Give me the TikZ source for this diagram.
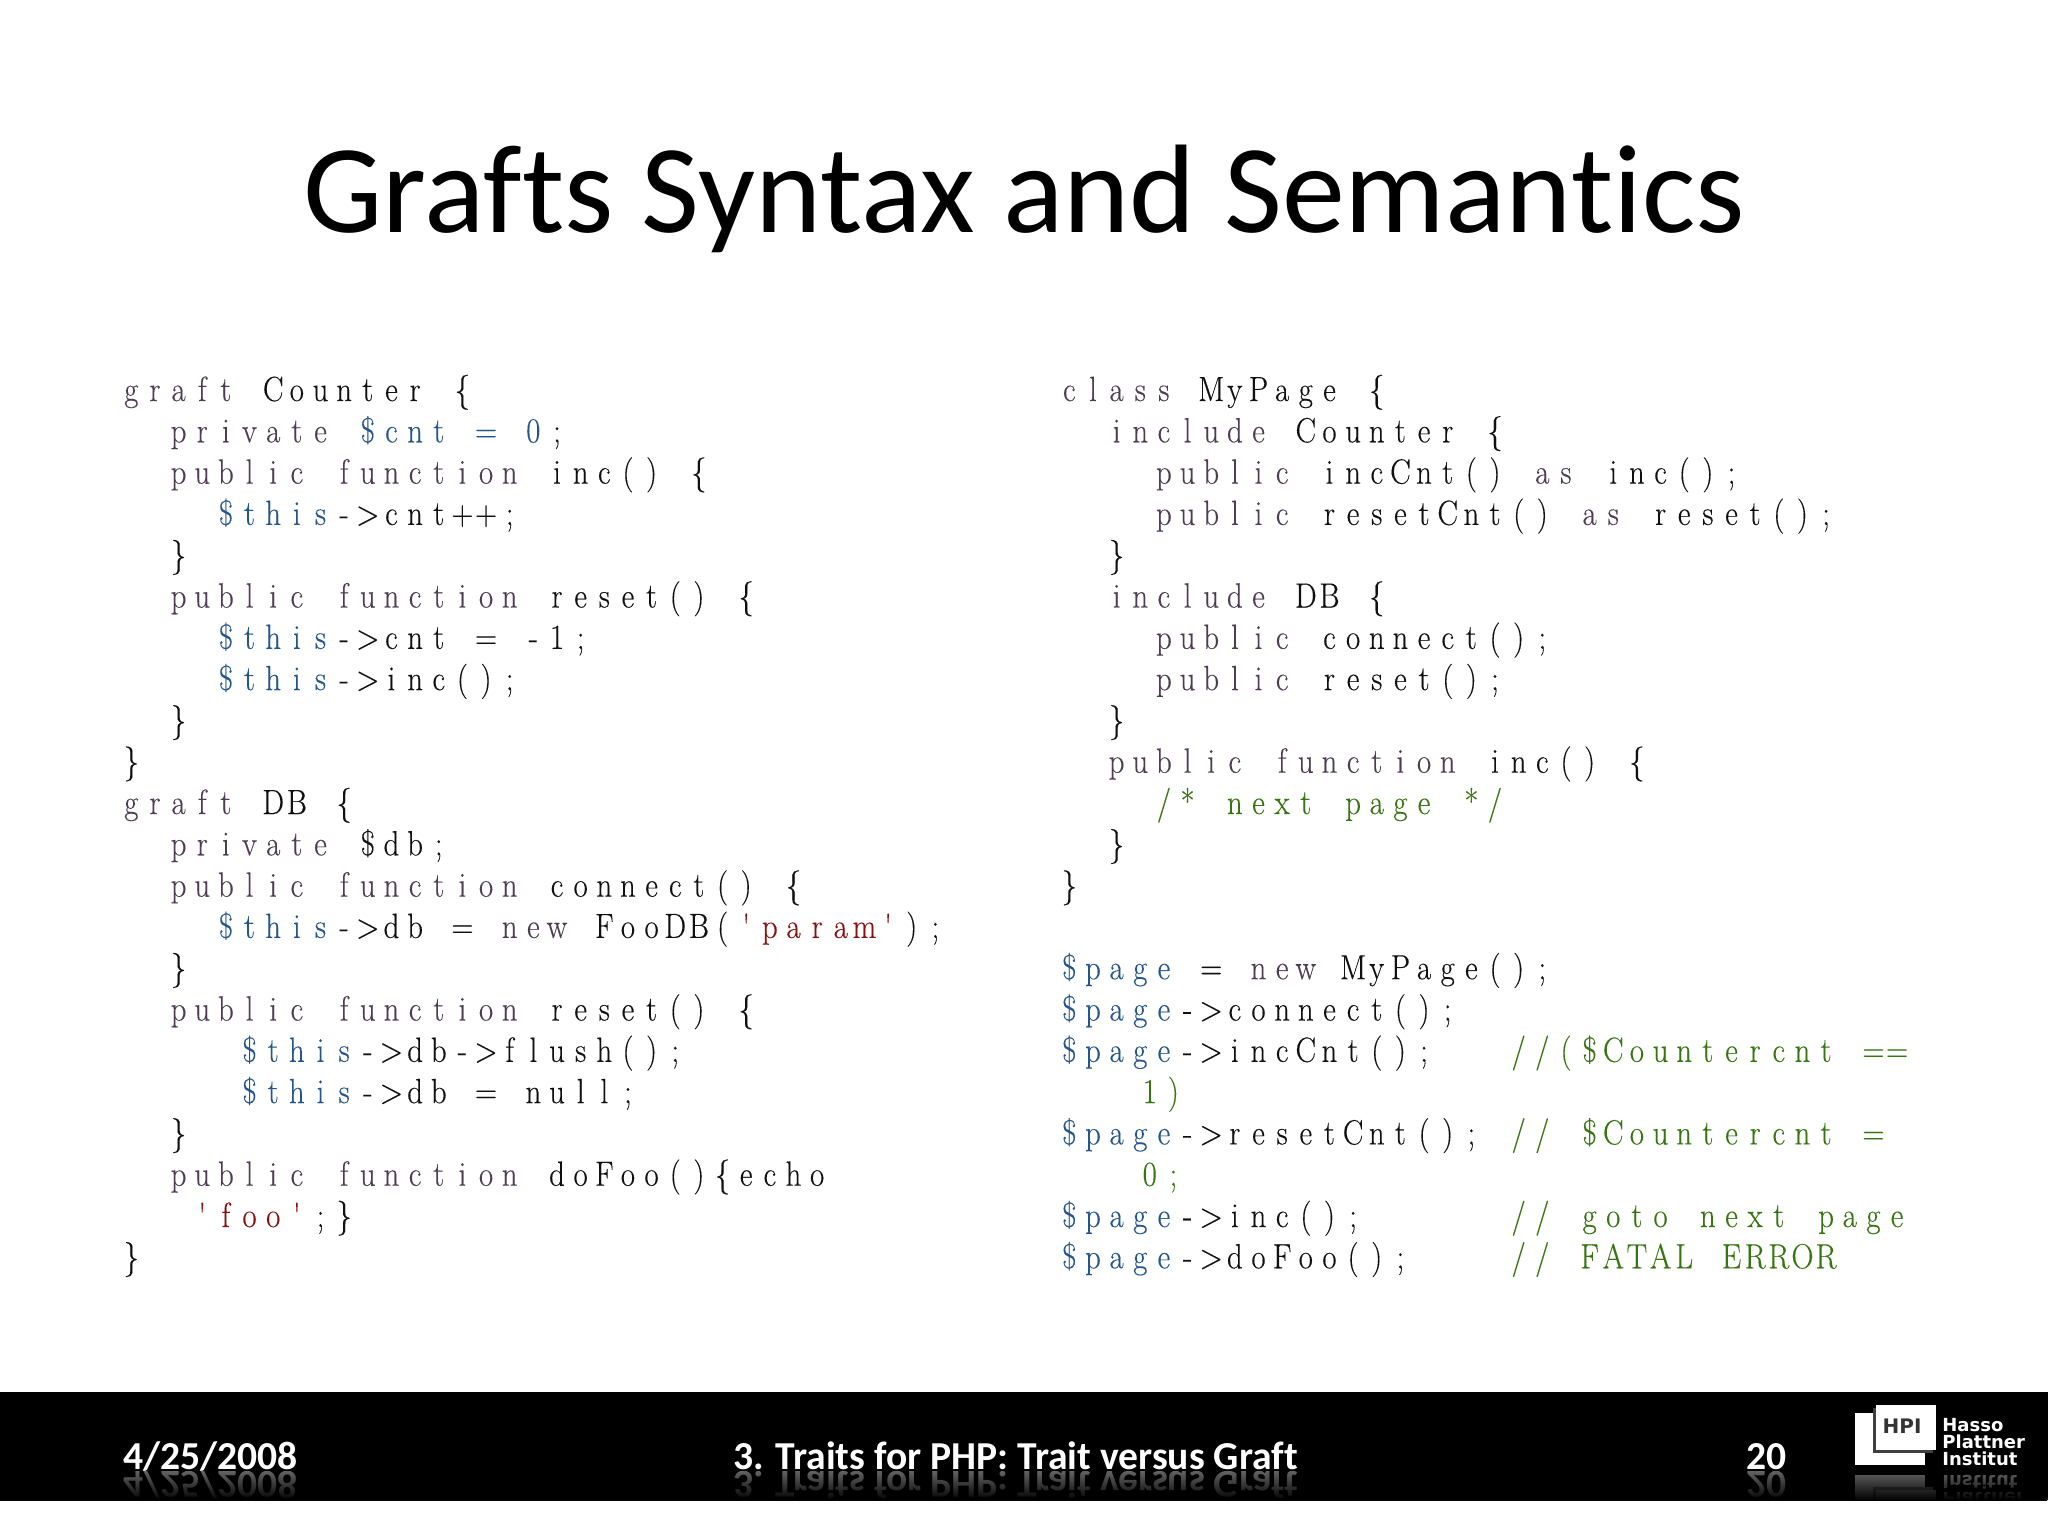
\documentclass[tikz,border=0pt]{standalone}
\usepackage{fontspec}
\usetikzlibrary{fadings}
\setmainfont{Carlito}[Ligatures=NoCommon]
\newfontfamily\codefont[FakeStretch=.88,FakeBold=.25]{Latin Modern Roman}
\newfontfamily\logofont{DejaVu Sans}
\definecolor{kw}{HTML}{4E3D52}
\definecolor{vr}{HTML}{24558C}
\definecolor{st}{HTML}{8A1010}
\definecolor{cm}{HTML}{367510}
\definecolor{pl}{HTML}{101010}
\newlength\cellw
\setlength\cellw{11.825pt}
\ExplSyntaxOn
\NewDocumentCommand\seg{mm}{
  \group_begin:
  \color{#1}
  \str_map_inline:nn {#2}{
    \str_case:nnF {##1}{
      {[}{\makebox[\cellw][c]{\{}}
      {]}{\makebox[\cellw][c]{\}}}
      {|}{\makebox[\cellw][c]{}}
    }{\makebox[\cellw][c]{##1}}
  }
  \group_end:
}
\ExplSyntaxOff
\newcommand\codeline[5]{\node[codetext] (#1) at ({#2+#3*23.65},{401+#4*41.3}) {#5};}
\newcommand\footerbits[1]{%
  \fill[fg] (1855,1413) rectangle (1925,1465);
  \fill[black!75] (1873,1408) rectangle (1933,1453);
  \fill[fg] (1876,1405) rectangle (1936,1450);
  \node[foot,anchor=base west] (#1date) at (123,1469) {4/25/2008};
  \node[foot,anchor=base] (#1talk) at (1015.5,1469) {3. Traits for PHP: Trait versus Graft};
  \node[foot,anchor=base] (#1num) at (1766.5,1469) {20};
  \node[hpi] (#1hpi) at (1902,1433) {HPI};
  \node[hpt] (#1a) at (1942,1431) {Hasso};
  \node[hpt] (#1b) at (1942,1448) {Plattner};
  \node[hpt] (#1c) at (1942,1465) {Institut};
}
\begin{document}
\begin{tikzpicture}[x=.5pt,y=-.5pt,
  codetext/.style={inner sep=0pt,outer sep=0pt,anchor=base west,text=pl,font=\codefont\fontsize{17.5}{17.5}\selectfont},
  foot/.style={inner sep=0pt,text=fg,transform shape,font=\bfseries\fontsize{19.8}{20}\selectfont},
  hpi/.style={inner sep=0pt,anchor=base,text=black!80,transform shape,font=\logofont\bfseries\fontsize{10}{10}\selectfont},
  hpt/.style={inner sep=0pt,anchor=base west,text=fg,transform shape,font=\logofont\bfseries\fontsize{9}{9}\selectfont}]
\colorlet{fg}{white}
\useasboundingbox (0,0) rectangle (2048,1536);
\fill[white] (0,0) rectangle (2048,1536);
\fill[black] (0,1392) rectangle (2048,1500);
\node[inner sep=0pt,anchor=base,font=\fontsize{63}{63}\selectfont] (title) at (1024,232) {Grafts Syntax and Semantics};
% left column
\codeline{a0}{119.5}{0}{0}{\seg{kw}{graft}\seg{pl}{ Counter [}}
\codeline{a1}{119.5}{2}{1}{\seg{kw}{private}\seg{vr}{ $cnt = 0}\seg{pl}{;}}
\codeline{a2}{119.5}{2}{2}{\seg{kw}{public function}\seg{pl}{ inc() [}}
\codeline{a3}{119.5}{4}{3}{\seg{vr}{$this}\seg{pl}{->cnt++;}}
\codeline{a4}{119.5}{2}{4}{\seg{pl}{]}}
\codeline{a5}{119.5}{2}{5}{\seg{kw}{public function}\seg{pl}{ reset() [}}
\codeline{a6}{119.5}{4}{6}{\seg{vr}{$this}\seg{pl}{->cnt = -1;}}
\codeline{a7}{119.5}{4}{7}{\seg{vr}{$this}\seg{pl}{->inc();}}
\codeline{a8}{119.5}{2}{8}{\seg{pl}{]}}
\codeline{a9}{119.5}{0}{9}{\seg{pl}{]}}
\codeline{a10}{119.5}{0}{10}{\seg{kw}{graft}\seg{pl}{ DB [}}
\codeline{a11}{119.5}{2}{11}{\seg{kw}{private}\seg{pl}{ $db;}}
\codeline{a12}{119.5}{2}{12}{\seg{kw}{public function}\seg{pl}{ connect() [}}
\codeline{a13}{119.5}{4}{13}{\seg{vr}{$this}\seg{pl}{->db = }\seg{kw}{new}\seg{pl}{ FooDB(}\seg{st}{'param'}\seg{pl}{);}}
\codeline{a14}{119.5}{2}{14}{\seg{pl}{]}}
\codeline{a15}{119.5}{2}{15}{\seg{kw}{public function}\seg{pl}{ reset() [}}
\codeline{a16}{119.5}{5}{16}{\seg{vr}{$this}\seg{pl}{->db->flush();}}
\codeline{a17}{119.5}{5}{17}{\seg{vr}{$this}\seg{pl}{->db = null;}}
\codeline{a18}{119.5}{2}{18}{\seg{pl}{]}}
\codeline{a19}{119.5}{2}{19}{\seg{kw}{public function}\seg{pl}{ doFoo()[echo}}
\codeline{a20}{119.5}{3}{20}{\seg{st}{'foo'}\seg{pl}{;]}}
\codeline{a21}{119.5}{0}{21}{\seg{pl}{]}}
% right column
\codeline{b0}{1057.5}{0}{0}{\seg{kw}{class}\seg{pl}{ MyPage [}}
\codeline{b1}{1057.5}{2}{1}{\seg{kw}{include}\seg{pl}{ Counter [}}
\codeline{b2}{1057.5}{4}{2}{\seg{kw}{public}\seg{pl}{ incCnt() }\seg{kw}{as}\seg{pl}{ inc();}}
\codeline{b3}{1057.5}{4}{3}{\seg{kw}{public}\seg{pl}{ resetCnt() }\seg{kw}{as}\seg{pl}{ reset();}}
\codeline{b4}{1057.5}{2}{4}{\seg{pl}{]}}
\codeline{b5}{1057.5}{2}{5}{\seg{kw}{include}\seg{pl}{ DB [}}
\codeline{b6}{1057.5}{4}{6}{\seg{kw}{public}\seg{pl}{ connect();}}
\codeline{b7}{1057.5}{4}{7}{\seg{kw}{public}\seg{pl}{ reset();}}
\codeline{b8}{1057.5}{2}{8}{\seg{pl}{]}}
\codeline{b9}{1057.5}{2}{9}{\seg{kw}{public function}\seg{pl}{ inc() [}}
\codeline{b10}{1057.5}{4}{10}{\seg{cm}{/* next page */}}
\codeline{b11}{1057.5}{2}{11}{\seg{pl}{]}}
\codeline{b12}{1057.5}{0}{12}{\seg{pl}{]}}
\codeline{b14}{1057.5}{0}{14}{\seg{vr}{$page}\seg{pl}{ = }\seg{kw}{new}\seg{pl}{ MyPage();}}
\codeline{b15}{1057.5}{0}{15}{\seg{vr}{$page}\seg{pl}{->connect();}}
\codeline{b16}{1057.5}{0}{16}{\seg{vr}{$page}\seg{pl}{->incCnt();|||}\seg{cm}{//($Countercnt ==}}
\codeline{b17}{1057.5}{3.4}{17}{\seg{cm}{1)}}
\codeline{b18}{1057.5}{0}{18}{\seg{vr}{$page}\seg{pl}{->resetCnt(); }\seg{cm}{// $Countercnt =}}
\codeline{b19}{1057.5}{3.4}{19}{\seg{cm}{0;}}
\codeline{b20}{1057.5}{0}{20}{\seg{vr}{$page}\seg{pl}{->inc();||||||}\seg{cm}{// goto next page}}
\codeline{b21}{1057.5}{0}{21}{\seg{vr}{$page}\seg{pl}{->doFoo();||||}\seg{cm}{// FATAL ERROR}}
% footer reflection
\begin{scope}
  \clip (0,1471) rectangle (2048,1500);
  \begin{scope}[shift={(0,2*1470)},yscale=-1]
    \colorlet{fg}{black!60!white}
    \footerbits{r}
  \end{scope}
\end{scope}
\fill[black,path fading=north] (0,1470) rectangle (2048,1500.5);
\footerbits{f}
\end{tikzpicture}
\end{document}
